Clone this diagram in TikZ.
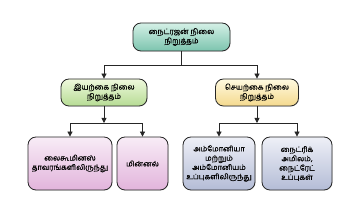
\documentclass[tikz,border=0pt]{standalone}
\usepackage{fontspec}
\newfontfamily\tamil[Script=Tamil,FakeBold=0.5]{Hind Madurai}
\usepackage{tikz}
\usetikzlibrary{arrows.meta,calc,positioning,shadows}
\usepackage{xcolor}
\definecolor{tealtop}{HTML}{D4F0E6}
\definecolor{tealbot}{HTML}{7CC4AE}
\definecolor{greentop}{HTML}{EEF8DC}
\definecolor{greenbot}{HTML}{B6DC94}
\definecolor{yellowtop}{HTML}{FFFAE0}
\definecolor{yellowbot}{HTML}{F4D98E}
\definecolor{pinktop}{HTML}{F8ECF6}
\definecolor{pinkbot}{HTML}{E2B4DC}
\definecolor{bluetop}{HTML}{EEF0F7}
\definecolor{bluebot}{HTML}{B4BCD6}

\tikzset{
  box/.style={draw=black!85,line width=0.8pt,rounded corners=8pt,align=center,
    inner sep=1pt,font=\tamil\fontsize{7.4}{9.3}\selectfont,
    drop shadow={shadow xshift=0.6pt,shadow yshift=-0.6pt,opacity=0.25}},
  link/.style={line width=0.8pt,black!85}
}

\begin{document}
\begin{tikzpicture}[>={Triangle[length=5pt,width=5pt]},x=1pt,y=-1pt]
  \useasboundingbox (0,0) rectangle (346,200);
  % top level
  \node[box,top color=tealtop,bottom color=tealbot,minimum width=97pt,minimum height=28pt]
    (nfix) at (181.5,37) {நைட்ரஜன் நிலை\\நிறுத்தம்};
  % second level
  \node[box,top color=greentop,bottom color=greenbot,minimum width=86pt,minimum height=27pt]
    (natural) at (104,92.5) {இயற்கை நிலை\\நிறுத்தம்};
  \node[box,top color=yellowtop,bottom color=yellowbot,minimum width=83pt,minimum height=27pt]
    (artificial) at (257,92.5) {செயற்கை நிலை\\நிறுத்தம்};
  % leaves
  \node[box,top color=pinktop,bottom color=pinkbot,minimum width=84pt,minimum height=53pt]
    (legume) at (70,163.5) {லைகூமினஸ்\\தாவரங்களிலிருந்து};
  \node[box,top color=pinktop,bottom color=pinkbot,minimum width=51pt,minimum height=53pt]
    (lightning) at (142.5,163.5) {மின்னல்};
  \node[box,top color=bluetop,bottom color=bluebot,minimum width=72pt,minimum height=53pt]
    (ammonia) at (219,163.5) {அம்மோனியா\\மற்றும்\\அம்மோனியம்\\உப்புகளிலிருந்து};
  \node[box,top color=bluetop,bottom color=bluebot,minimum width=70pt,minimum height=53pt]
    (nitric) at (297,163.5) {நைட்ரிக்\\அமிலம்,\\நைட்ரேட்\\உப்புகள்};

  % connectors
  \coordinate (j1) at (nfix.south |- 0,65);
  \coordinate (j2) at (natural.south |- 0,123);
  \coordinate (j3) at (artificial.south |- 0,123);
  \draw[link] (nfix.south) -- (j1);
  \draw[link,->] (j1) -| (natural.north);
  \draw[link,->] (j1) -| (artificial.north);
  \draw[link,->] (natural.south) -- (j2);
  \draw[link,->] (j2) -| (legume.north);
  \draw[link,->] (j2) -| (lightning.north);
  \draw[link,->] (artificial.south) -- (j3);
  \draw[link,->] (j3) -| (ammonia.north);
  \draw[link,->] (j3) -| (nitric.north);
\end{tikzpicture}
\end{document}
